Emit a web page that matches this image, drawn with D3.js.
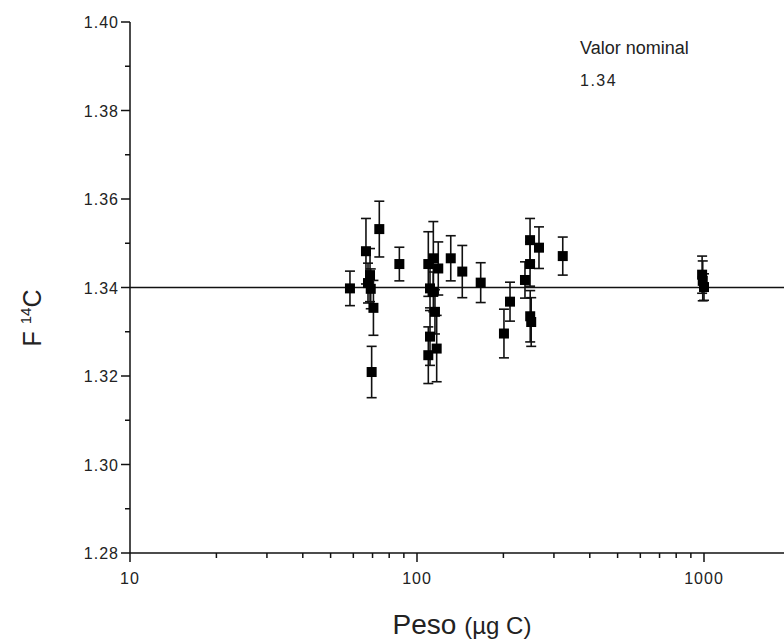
<!DOCTYPE html>
<html>
<head>
<meta charset="utf-8">
<script src="https://d3js.org/d3.v7.min.js"></script>
<style>
  body { margin: 0; background: #fff; }
  text { font-family: "Liberation Sans", Arial, sans-serif; fill: #222; }
</style>
</head>
<body>
<svg width="784" height="644"></svg>
<script>
// data: peso (ug C), F14C, error
var peso = [58.4, 66.4, 68.6, 67.5, 69.0, 70.5, 69.5, 73.9, 86.8,
            109.5, 114, 118.6, 111, 114, 115.5, 111, 117.1, 109.5,
            131.1, 143.8, 166.7, 200.9, 210.9, 237.8, 247.7, 247.7, 266.1,
            248, 250, 322, 985, 990, 1000];
var f14c = [1.3398, 1.3482, 1.3428, 1.3410, 1.3397, 1.3354, 1.3209, 1.3532, 1.3453,
            1.3453, 1.3466, 1.3443, 1.3398, 1.3390, 1.3345, 1.3289, 1.3262, 1.3247,
            1.3466, 1.3436, 1.3411, 1.3296, 1.3368, 1.3417, 1.3453, 1.3507, 1.3490,
            1.3335, 1.3322, 1.3471, 1.3429, 1.3415, 1.3401];
var err  = [0.0039, 0.0074, 0.0060, 0.0045, 0.0045, 0.0062, 0.0058, 0.0063, 0.0038,
            0.0073, 0.0083, 0.0060, 0.0050, 0.0045, 0.0050, 0.0065, 0.0075, 0.0064,
            0.0051, 0.0059, 0.0045, 0.0055, 0.0044, 0.0041, 0.0050, 0.0049, 0.0047,
            0.0058, 0.0055, 0.0043, 0.0042, 0.0045, 0.0030];
var nominal = 1.34;
var xTicks = [10, 100, 1000];
var yTicks = [1.28, 1.30, 1.32, 1.34, 1.36, 1.38, 1.40];

var svg = d3.select("svg");

var x = d3.scaleLog().domain([10, 1900]).range([130, 784]);
var y = d3.scaleLinear().domain([1.28, 1.40]).range([553, 22]);

// minor ticks
var xMinor = [];
[10, 100, 1000].forEach(function(d) {
  for (var k = 2; k <= 9; k++) if (d * k <= 1900) xMinor.push(d * k);
});
var yMinor = [1.29, 1.31, 1.33, 1.35, 1.37, 1.39];

var axes = svg.append("g").attr("stroke", "#111").attr("stroke-width", 1.5);

axes.append("line").attr("x1", 130).attr("x2", 784)
  .attr("y1", y(1.28)).attr("y2", y(1.28));
axes.append("line").attr("x1", 130).attr("x2", 130)
  .attr("y1", y(1.40)).attr("y2", y(1.28));

axes.selectAll(".xmaj").data(xTicks).enter().append("line")
  .attr("x1", function(d) { return x(d); }).attr("x2", function(d) { return x(d); })
  .attr("y1", y(1.28)).attr("y2", y(1.28) + 9);
axes.selectAll(".xmin").data(xMinor).enter().append("line")
  .attr("x1", function(d) { return x(d); }).attr("x2", function(d) { return x(d); })
  .attr("y1", y(1.28)).attr("y2", y(1.28) + 5);
axes.selectAll(".ymaj").data(yTicks).enter().append("line")
  .attr("x1", 121).attr("x2", 130)
  .attr("y1", function(d) { return y(d); }).attr("y2", function(d) { return y(d); });
axes.selectAll(".ymin").data(yMinor).enter().append("line")
  .attr("x1", 125).attr("x2", 130)
  .attr("y1", function(d) { return y(d); }).attr("y2", function(d) { return y(d); });

svg.selectAll(".xlab").data(xTicks).enter().append("text")
  .attr("x", function(d) { return x(d); }).attr("y", y(1.28) + 31)
  .attr("text-anchor", "middle").style("font-size", "16px").style("letter-spacing", "1px")
  .text(function(d) { return d; });
svg.selectAll(".ylab").data(yTicks).enter().append("text")
  .attr("x", 119).attr("y", function(d) { return y(d) + 6; })
  .attr("text-anchor", "end").style("font-size", "16px").style("letter-spacing", "1px")
  .text(function(d) { return d.toFixed(2); });

// nominal line
svg.append("line").attr("x1", 130).attr("x2", 784)
  .attr("y1", y(nominal)).attr("y2", y(nominal))
  .attr("stroke", "#111").attr("stroke-width", 1.5);

// error bars
var pts = peso.map(function(p, i) { return { x: p, y: f14c[i], e: err[i] }; });
var eb = svg.append("g").attr("stroke", "#111").attr("stroke-width", 1.6);
pts.forEach(function(d) {
  var cx = x(d.x);
  eb.append("line").attr("x1", cx).attr("x2", cx).attr("y1", y(d.y + d.e)).attr("y2", y(d.y - d.e));
  eb.append("line").attr("x1", cx - 5).attr("x2", cx + 5).attr("y1", y(d.y + d.e)).attr("y2", y(d.y + d.e));
  eb.append("line").attr("x1", cx - 5).attr("x2", cx + 5).attr("y1", y(d.y - d.e)).attr("y2", y(d.y - d.e));
});

svg.append("g").selectAll("rect").data(pts).enter().append("rect")
  .attr("x", function(d) { return x(d.x) - 5; })
  .attr("y", function(d) { return y(d.y) - 5; })
  .attr("width", 10).attr("height", 10)
  .attr("fill", "#000");

// annotation
svg.append("text").attr("x", 580).attr("y", 54).style("font-size", "18px").text("Valor nominal");
svg.append("text").attr("x", 580).attr("y", 86).style("font-size", "16px").style("letter-spacing", "1.5px").text("1.34");

// axis titles
var yt = svg.append("text").attr("transform", "translate(41,318) rotate(-90)")
  .attr("text-anchor", "middle").style("font-size", "25px");
yt.append("tspan").text("F ");
yt.append("tspan").attr("dy", -10).style("font-size", "15px").text("14");
yt.append("tspan").attr("dy", 10).text("C");

var xt = svg.append("text").attr("x", 462).attr("y", 634).attr("text-anchor", "middle");
xt.append("tspan").style("font-size", "28px").text("Peso ");
xt.append("tspan").style("font-size", "24px").text("(\u00b5g C)");
</script>
</body>
</html>
